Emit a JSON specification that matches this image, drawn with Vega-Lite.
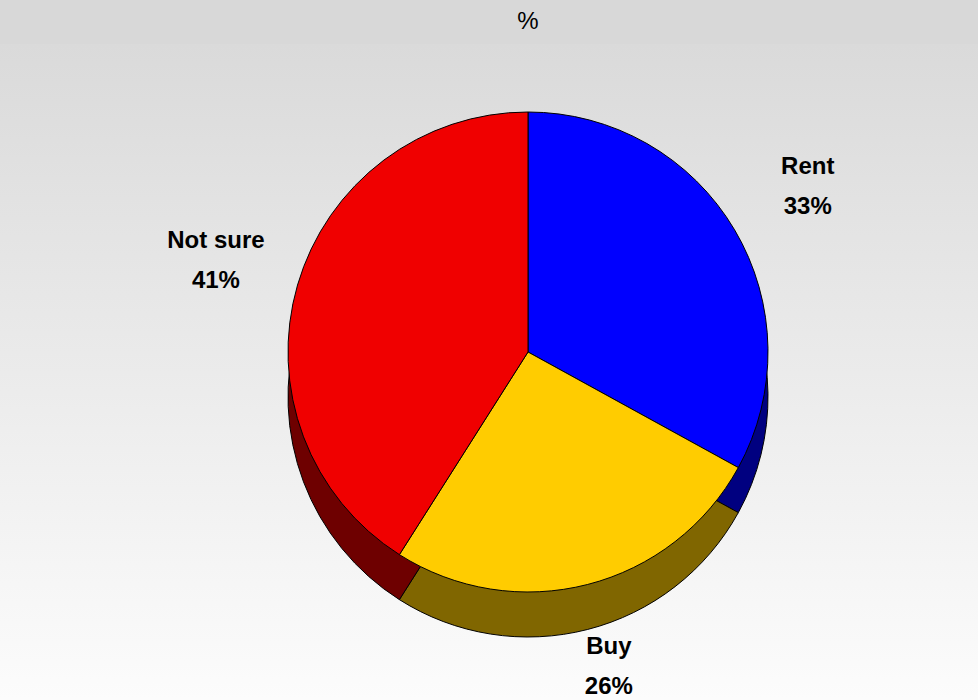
{
  "$schema": "https://vega.github.io/schema/vega-lite/v6.json",
  "width": 978,
  "height": 700,
  "autosize": {"type": "fit", "contains": "padding"},
  "padding": {"top": 10, "left": 0, "right": 0, "bottom": 0},
  "background": "#d8d8d8",
  "title": {"text": "%", "fontSize": 24, "fontWeight": "normal", "font": "Liberation Sans", "color": "#000000", "dx": 39, "offset": 10, "anchor": "middle"},
  "config": {"view": {"stroke": null}},
  "data": {"values": [
    {"category": "Rent", "value": 0.33, "order": 1},
    {"category": "Buy", "value": 0.26, "order": 2},
    {"category": "Not sure", "value": 0.41, "order": 3}
  ]},
  "layer": [
    {
      "data": {"values": [{"panel": "background"}]},
      "mark": {"type": "rect", "color": {"gradient": "linear", "x1": 0, "y1": 0, "x2": 0, "y2": 1, "stops": [{"offset": 0, "color": "#dadada"}, {"offset": 1, "color": "#fcfcfc"}]}},
      "encoding": {}
    },
    {
      "mark": {"type": "arc", "radius": 240, "x": {"expr": "width/2 + 39"}, "y": {"expr": "height/2 - 20"}, "yOffset": 45, "stroke": "#000000", "strokeWidth": 1},
      "encoding": {
        "theta": {"field": "value", "type": "quantitative", "stack": true},
        "order": {"field": "order", "type": "quantitative"},
        "color": {"field": "category", "type": "nominal", "legend": null,
          "scale": {"domain": ["Rent", "Buy", "Not sure"], "range": ["#000080", "#806600", "#6e0000"]}}
      }
    },
    {
      "mark": {"type": "arc", "radius": 240, "x": {"expr": "width/2 + 39"}, "y": {"expr": "height/2 - 20"}, "stroke": "#000000", "strokeWidth": 1},
      "encoding": {
        "theta": {"field": "value", "type": "quantitative", "stack": true},
        "order": {"field": "order", "type": "quantitative"},
        "fill": {"field": "category", "type": "nominal", "legend": null,
          "scale": {"domain": ["Rent", "Buy", "Not sure"], "range": ["#0000ff", "#ffcc00", "#f00000"]}}
      }
    },
    {
      "mark": {"type": "text", "radius": 325, "x": {"expr": "width/2 + 39"}, "y": {"expr": "height/2 - 20"}, "dy": -20, "font": "Liberation Sans", "fontSize": 24, "fontWeight": "bold", "color": "#000000"},
      "encoding": {
        "theta": {"field": "value", "type": "quantitative", "stack": true},
        "order": {"field": "order", "type": "quantitative"},
        "text": {"field": "category", "type": "nominal"}
      }
    },
    {
      "mark": {"type": "text", "radius": 325, "x": {"expr": "width/2 + 39"}, "y": {"expr": "height/2 - 20"}, "dy": 20, "font": "Liberation Sans", "fontSize": 24, "fontWeight": "bold", "color": "#000000"},
      "encoding": {
        "theta": {"field": "value", "type": "quantitative", "stack": true},
        "order": {"field": "order", "type": "quantitative"},
        "text": {"field": "value", "type": "quantitative", "format": ".0%"}
      }
    }
  ],
  "resolve": {"scale": {"color": "independent", "fill": "independent"}}
}
